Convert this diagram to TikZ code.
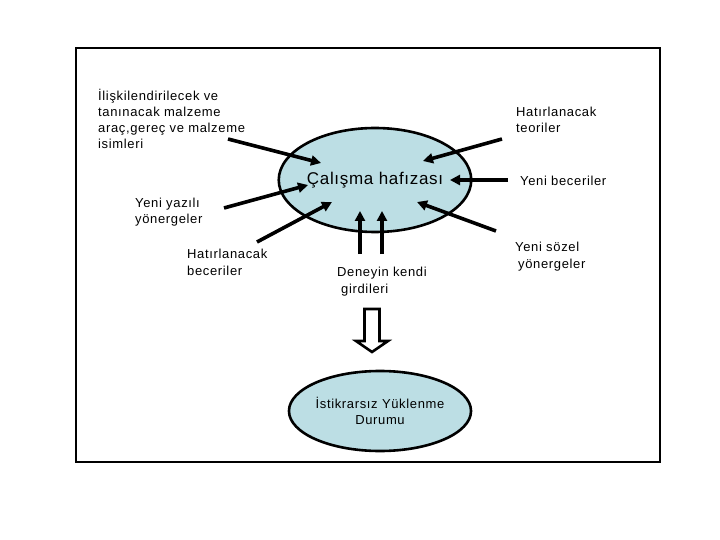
\documentclass[tikz,border=0pt]{standalone}
\usepackage{fontspec}
\setmainfont{Liberation Sans}
\newfontfamily\lblfont[LetterSpace=5]{Liberation Sans}
\newfontfamily\mainfont[LetterSpace=4]{Liberation Sans}
\usetikzlibrary{shapes.geometric,arrows.meta}
\definecolor{wmblue}{RGB}{188,222,228}
\tikzset{
  lbl/.style={anchor=base west,inner sep=0pt,align=left,font=\lblfont\fontsize{13}{16.3}\selectfont},
  blob/.style={ellipse,draw=black,line width=2.6pt,fill=wmblue,inner sep=0pt},
  inarrow/.style={line width=3.6pt,-{Triangle[length=10pt,width=10pt]}},
  outline/.style={line width=1.5pt}
}
\begin{document}
\begin{tikzpicture}[x=1pt,y=-1pt]
\useasboundingbox (0,0) rectangle (720,540);
\fill[white] (0,0) rectangle (720,540);
\draw[outline] (76,48) rectangle (660,462);

% central ellipse
\node[blob,minimum width=156pt,minimum height=104pt,font=\mainfont\fontsize{17}{20}\selectfont] (wm) at (375,180) {\raisebox{-2pt}{Çalışma hafızası}};

% bottom ellipse
\node[blob,minimum width=156pt,minimum height=80pt,align=center,font=\lblfont\fontsize{13}{15.5}\selectfont] (ist) at (380,411) {İstikrarsız Yüklenme\\Durumu};

% labels (positioned at the baseline of their last line)
\node[lbl] (l1) at (98,149) {İlişkilendirilecek ve\\tanınacak malzeme\\araç,gereç ve malzeme\\isimleri};
\node[lbl] (l2) at (135,224) {Yeni yazılı\\yönergeler};
\node[lbl] (l3) at (187,275) {Hatırlanacak\\beceriler};
\node[lbl] (l4) at (337,293) {Deneyin kendi\\\hspace*{4pt}girdileri};
\node[lbl] (r1) at (516,133) {Hatırlanacak\\teoriler};
\node[lbl] (r2) at (520,186) {Yeni beceriler};
\node[lbl] (r3) at (515,268) {Yeni sözel\\\hspace*{3pt}yönergeler};

% arrow end points
\coordinate (s1) at (228,139); \coordinate (t1) at (321,163);
\coordinate (s2) at (224,208); \coordinate (t2) at (308,185);
\coordinate (s3) at (257,242); \coordinate (t3) at (332,202);
\coordinate (s4) at (360,254); \coordinate (t4) at (360,211);
\coordinate (s5) at (382,254); \coordinate (t5) at (382,211);
\coordinate (s6) at (496,231); \coordinate (t6) at (417,202);
\coordinate (s7) at (502,139); \coordinate (t7) at (423,161);
\coordinate (s8) at (508,180); \coordinate (t8) at (450,180);

\foreach \i in {1,...,8} \draw[inarrow] (s\i) -- (t\i);

% hollow block arrow
\draw[line width=2.6pt,fill=white,line join=miter]
  (364.5,309) -- (379.5,309) -- (379.5,341) -- (388,341) -- (372,352)
  -- (356,341) -- (364.5,341) -- cycle;
\end{tikzpicture}
\end{document}
